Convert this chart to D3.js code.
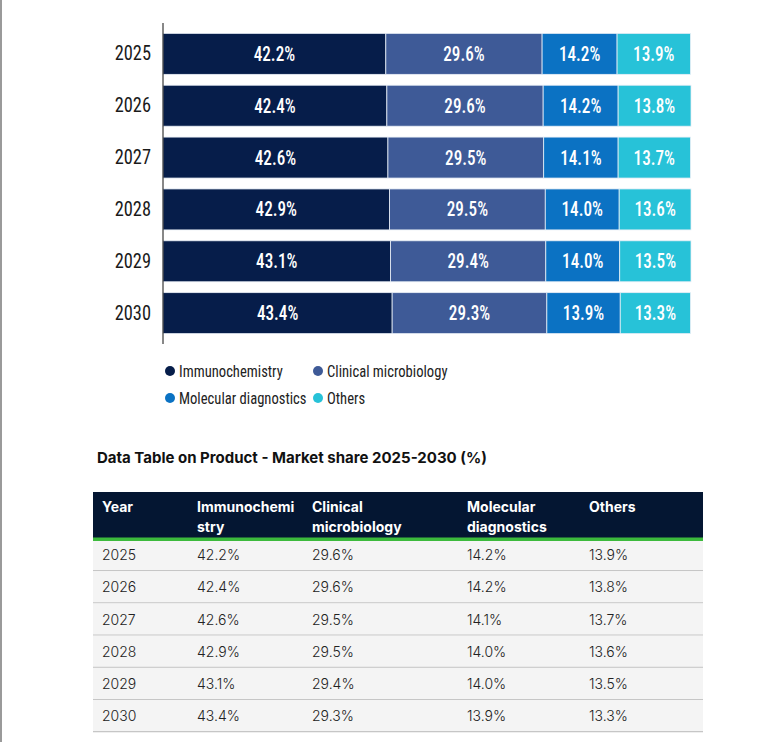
<!DOCTYPE html>
<html>
<head>
<meta charset="utf-8">
<script src="https://cdn.jsdelivr.net/npm/d3@7"></script>
<style>
	html, body { margin: 0; padding: 0; background: #fff; }
	svg { display: block; }
	.narrow { font-family: "Roboto Condensed", Roboto, sans-serif; }
	.tbl { font-family: Inter, "Noto Sans", sans-serif; }
</style>
</head>
<body>
<svg width="779" height="742"></svg>
<script>
const years = ["2025", "2026", "2027", "2028", "2029", "2030"];
const segments = ["Immunochemistry", "Clinical microbiology", "Molecular diagnostics", "Others"];
const immunochemistry = [42.2, 42.4, 42.6, 42.9, 43.1, 43.4];
const clinicalMicrobiology = [29.6, 29.6, 29.5, 29.5, 29.4, 29.3];
const molecularDiagnostics = [14.2, 14.2, 14.1, 14.0, 14.0, 13.9];
const others = [13.9, 13.8, 13.7, 13.6, 13.5, 13.3];
const colors = ["#061d4a", "#3e5a97", "#0b72c3", "#27c2d8"];
const tableTitle = "Data Table on Product - Market share 2025-2030 (%)";
const tableHeaders = [["Year"], ["Immunochemi", "stry"], ["Clinical", "microbiology"], ["Molecular", "diagnostics"], ["Others"]];

const series = [immunochemistry, clinicalMicrobiology, molecularDiagnostics, others];
const rows = years.map((y, i) => {
	const r = { year: y };
	segments.forEach((s, k) => r[s] = series[k][i]);
	return r;
});

const svg = d3.select("svg");

// page border on the left
svg.append("rect").attr("x", 0).attr("y", 0).attr("width", 2).attr("height", 742).attr("fill", "#9a9a9a");

// ---- stacked bar chart ----
const x = d3.scaleLinear().domain([0, 100]).range([163, 691]);
const y = d3.scaleBand().domain(years).range([23, 344]).paddingInner(0.21).paddingOuter(0.2);

const stack = d3.stack().keys(segments)(rows);

const gBars = svg.append("g");
stack.forEach((layer, k) => {
	const g = gBars.append("g").attr("fill", colors[k]);
	g.selectAll("rect")
		.data(layer)
		.join("rect")
		.attr("x", d => x(d[0]))
		.attr("y", d => y(d.data.year))
		.attr("width", d => x(d[1]) - x(d[0]))
		.attr("height", y.bandwidth())
		.attr("stroke", "#e8eef6")
		.attr("stroke-width", 0.8);
	// narrow look: squeeze the label horizontally
	g.selectAll("text")
		.data(layer)
		.join("text")
		.attr("class", "narrow")
		.attr("transform", d => `translate(${(x(d[0]) + x(d[1])) / 2},${y(d.data.year) + y.bandwidth() / 2}) scale(0.88,1)`)
		.attr("dy", "0.36em")
		.attr("text-anchor", "middle")
		.attr("fill", "#fff")
		.attr("font-size", 19.5)
		.attr("font-weight", 500)
		.text(d => (d[1] - d[0]).toFixed(1) + "%");
});

const yAxis = svg.append("g")
	.attr("transform", `translate(${x(0)},0)`)
	.call(d3.axisLeft(y).tickSize(0).tickPadding(12));
yAxis.select(".domain").attr("stroke", "#111").attr("d", "M0,23V344");
yAxis.selectAll(".tick text")
	.attr("class", "narrow")
	.attr("x", null)
	.attr("transform", "translate(-12,0) scale(0.92,1)")
	.attr("font-size", 20)
	.attr("fill", "#1a1a1a");

// legend
const legend = svg.append("g").attr("class", "narrow");
const legPos = [[170, 371], [318, 371], [170, 398], [318, 398]];
segments.forEach((s, k) => {
	const g = legend.append("g").attr("transform", `translate(${legPos[k][0]},${legPos[k][1]})`);
	g.append("circle").attr("r", 5).attr("fill", colors[k]);
	g.append("text")
		.attr("transform", "translate(9,0) scale(0.86,1)")
		.attr("dy", "0.36em")
		.attr("font-size", 17)
		.attr("fill", "#222")
		.text(s);
});

// ---- data table ----
const tbl = svg.append("g").attr("class", "tbl");
tbl.append("text")
	.attr("x", 97).attr("y", 463)
	.attr("font-size", 15).attr("font-weight", 700).attr("fill", "#111")
	.text(tableTitle);

const tx0 = 93, tx1 = 703;
const colX = [102, 197, 312, 467, 589];
const headTop = 492, headBottom = 538, rowTop = 539, rowH = 32.2;

tbl.append("rect").attr("x", tx0).attr("y", headTop).attr("width", tx1 - tx0).attr("height", headBottom - headTop).attr("fill", "#041632");

tableHeaders.forEach((lines, c) => {
	const t = tbl.append("text").attr("x", colX[c]).attr("y", 512).attr("font-size", 14).attr("font-weight", 700).attr("fill", "#fff");
	lines.forEach((l, i) => t.append("tspan").attr("x", colX[c]).attr("dy", i ? 20 : 0).text(l));
});

const rowG = tbl.selectAll("g.row")
	.data(rows)
	.join("g")
	.attr("class", "row")
	.attr("transform", (d, i) => `translate(0,${rowTop + i * rowH})`);
rowG.append("rect").attr("x", tx0).attr("width", tx1 - tx0).attr("height", rowH).attr("fill", "#f4f4f4");
rowG.append("line").attr("x1", tx0).attr("x2", tx1).attr("y1", rowH - 0.5).attr("y2", rowH - 0.5).attr("stroke", "#c6c6c6").attr("stroke-width", 1.2);
rowG.selectAll("text")
	.data(d => [d.year].concat(segments.map(s => d[s].toFixed(1) + "%")))
	.join("text")
	.attr("x", (d, i) => colX[i])
	.attr("y", rowH / 2)
	.attr("dy", "0.36em")
	.attr("font-size", 14)
	.attr("font-weight", 300)
	.attr("fill", "#222")
	.text(d => d);

tbl.append("rect").attr("x", tx0).attr("y", headBottom - 0.5).attr("width", tx1 - tx0).attr("height", 3.5).attr("fill", "#3cba3c");
</script>
</body>
</html>
